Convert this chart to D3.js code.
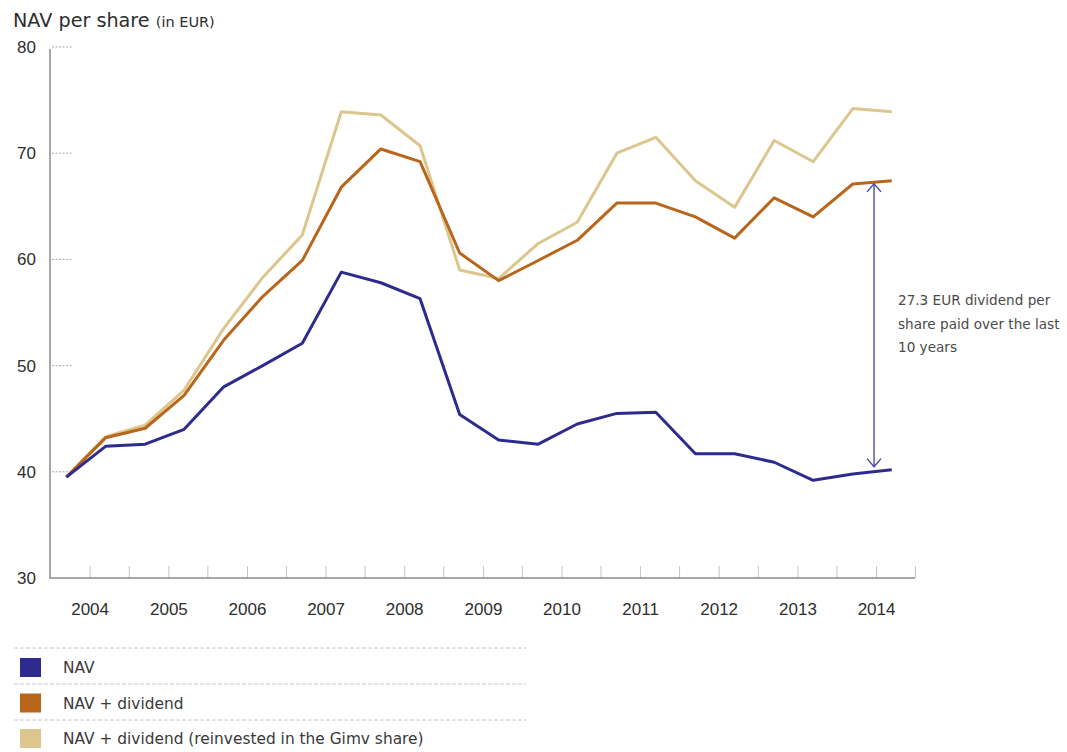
<!DOCTYPE html>
<html>
<head>
<meta charset="utf-8">
<script src="https://cdn.jsdelivr.net/npm/d3@7"></script>
<style>
    body { margin: 0; background: #fff; }
    svg { display: block; font-family: "DejaVu Sans", sans-serif; }
    .axis text { fill: #2e2e2e; font-size: 17px; }
    .ticks line { stroke: #c4c4c4; stroke-width: 1; }
    .stub { stroke: #a8a8a8; stroke-width: 1; stroke-dasharray: 2 1.5; }
    .series { fill: none; stroke-width: 3; stroke-linejoin: round; }
    .legend-rule { stroke: #c8c8c8; stroke-width: 1; stroke-dasharray: 4 2; }
    .legend-label { fill: #3a3a3a; font-size: 15.4px; }
    .note { fill: #4a4a4a; font-size: 13.6px; }
</style>
</head>
<body>
<script>

// Data (semi-annual, fiscal periods ending Sept / March) //////////////

const periods = [
    "2003-09", "2004-03", "2004-09", "2005-03", "2005-09", "2006-03",
    "2006-09", "2007-03", "2007-09", "2008-03", "2008-09", "2009-03",
    "2009-09", "2010-03", "2010-09", "2011-03", "2011-09", "2012-03",
    "2012-09", "2013-03", "2013-09", "2014-03"
];

const nav = [39.5, 42.4, 42.6, 44.0, 48.0, 50.0, 52.1, 58.8, 57.8, 56.3, 45.4,
    43.0, 42.6, 44.5, 45.5, 45.6, 41.7, 41.7, 40.9, 39.2, 39.8, 40.2];

const navDividend = [39.5, 43.2, 44.1, 47.2, 52.4, 56.5, 59.9, 66.8, 70.4, 69.2, 60.6,
    58.0, 59.9, 61.8, 65.3, 65.3, 64.0, 62.0, 65.8, 64.0, 67.1, 67.4];

const navReinvested = [39.5, 43.3, 44.4, 47.7, 53.5, 58.3, 62.3, 73.9, 73.6, 70.7, 59.0,
    58.2, 61.5, 63.5, 70.0, 71.5, 67.4, 64.9, 71.2, 69.2, 74.2, 73.9];

const seriesNames = [
    "NAV",
    "NAV + dividend",
    "NAV + dividend (reinvested in the Gimv share)"
];
const seriesColors = ["#2e2b8e", "#b8661c", "#dcc68e"];

const yTicks = [30, 40, 50, 60, 70, 80];
const noteLines = ["27.3 EUR dividend per", "share paid over the last", "10 years"];

// Layout ///////////////////////////////////////////////////////////////

const dim = { width: 1067, height: 752 };
const plot = { left: 50, right: 915, top: 47, bottom: 578 };

const parseMonth = d3.timeParse("%Y-%m");
// points are plotted mid-month
const dateOf = p => d3.timeDay.offset(parseMonth(p), 14);

const x = d3.scaleTime()
    .domain([new Date(2003, 6, 1), new Date(2014, 6, 1)])
    .range([plot.left, plot.right]);

const y = d3.scaleLinear()
    .domain([30, 80])
    .range([plot.bottom, plot.top]);

const svg = d3.select("body").append("svg")
    .attr("width", dim.width)
    .attr("height", dim.height);

// Title ////////////////////////////////////////////////////////////////

const title = svg.append("text")
    .attr("x", 13)
    .attr("y", 27)
    .style("fill", "#2e2e2e");
title.append("tspan").style("font-size", "19.2px").text("NAV per share ");
title.append("tspan").style("font-size", "14.5px").text("(in EUR)");

// Axes /////////////////////////////////////////////////////////////////

// dotted stubs next to the y axis
svg.append("g")
    .selectAll("line")
    .data(yTicks.filter(d => d !== 30))
    .join("line")
    .attr("class", "stub")
    .attr("x1", plot.left + 2)
    .attr("x2", plot.left + 23)
    .attr("y1", d => y(d))
    .attr("y2", d => y(d));

// half-year tick marks
svg.append("g")
    .attr("class", "axis ticks")
    .attr("transform", `translate(0, ${ plot.bottom })`)
    .call(d3.axisBottom(x)
        .tickValues(d3.timeMonth.every(6).range(new Date(2004, 0, 1), new Date(2014, 7, 1)))
        .tickSizeInner(-12)
        .tickSizeOuter(0)
        .tickFormat(""))
    .call(g => g.select(".domain").remove());

// year labels
svg.append("g")
    .attr("class", "axis x")
    .attr("transform", `translate(0, ${ plot.bottom })`)
    .call(d3.axisBottom(x)
        .tickValues(d3.timeYear.range(new Date(2004, 0, 1), new Date(2014, 1, 1)))
        .tickFormat(d3.timeFormat("%Y"))
        .tickSize(0)
        .tickPadding(25))
    .call(g => g.select(".domain").remove());

svg.append("g")
    .attr("class", "axis y")
    .attr("transform", `translate(${ plot.left }, 0)`)
    .call(d3.axisLeft(y)
        .tickValues(yTicks)
        .tickSize(0)
        .tickPadding(14))
    .call(g => g.select(".domain").remove());

svg.append("path")
    .attr("d", `M${ plot.left },${ plot.top + 2 }V${ plot.bottom }H${ plot.right }`)
    .style("fill", "none")
    .style("stroke", "#8a8a8a")
    .style("stroke-width", 1.5);

// Lines ////////////////////////////////////////////////////////////////

const seriesValues = [nav, navDividend, navReinvested];

const line = d3.line()
    .x((d, i) => x(dateOf(periods[i])))
    .y(d => y(d));

// draw the reinvested series first so the others sit on top
svg.append("g")
    .selectAll("path")
    .data([2, 1, 0])
    .join("path")
    .attr("class", "series")
    .attr("stroke", i => seriesColors[i])
    .attr("d", i => line(seriesValues[i]));

// Annotation ///////////////////////////////////////////////////////////

const arrowX = x(new Date(2014, 0, 1)) - 2;
const arrowTop = y(navDividend[navDividend.length - 1]) + 3;
const arrowBottom = y(nav[nav.length - 1]) - 3;
const head = { w: 7, h: 8 };

const arrow = svg.append("g")
    .style("fill", "none")
    .style("stroke", "#4141a6")
    .style("stroke-width", 1.3);
arrow.append("path")
    .attr("d", `M${ arrowX },${ arrowTop }V${ arrowBottom }`);
arrow.append("path")
    .attr("d", `M${ arrowX - head.w },${ arrowTop + head.h }L${ arrowX },${ arrowTop }L${ arrowX + head.w },${ arrowTop + head.h }`);
arrow.append("path")
    .attr("d", `M${ arrowX - head.w },${ arrowBottom - head.h }L${ arrowX },${ arrowBottom }L${ arrowX + head.w },${ arrowBottom - head.h }`);

svg.append("g")
    .selectAll("text")
    .data(noteLines)
    .join("text")
    .attr("class", "note")
    .attr("x", 898)
    .attr("y", (d, i) => 305 + i * 23.5)
    .text(d => d);

// Legend ///////////////////////////////////////////////////////////////

const legend = svg.append("g")
    .attr("transform", "translate(0, 648)");

legend.selectAll("line")
    .data([0, 1, 2])
    .join("line")
    .attr("class", "legend-rule")
    .attr("x1", 14)
    .attr("x2", 526)
    .attr("y1", i => i * 36)
    .attr("y2", i => i * 36);

const item = legend.selectAll("g.item")
    .data(seriesNames)
    .join("g")
    .attr("class", "item")
    .attr("transform", (d, i) => `translate(0, ${ i * 35.5 })`);

item.append("rect")
    .attr("x", 20)
    .attr("y", 10)
    .attr("width", 21)
    .attr("height", 19)
    .attr("fill", (d, i) => seriesColors[i]);

item.append("text")
    .attr("class", "legend-label")
    .attr("x", 63)
    .attr("y", 25)
    .text(d => d);

</script>
</body>
</html>
